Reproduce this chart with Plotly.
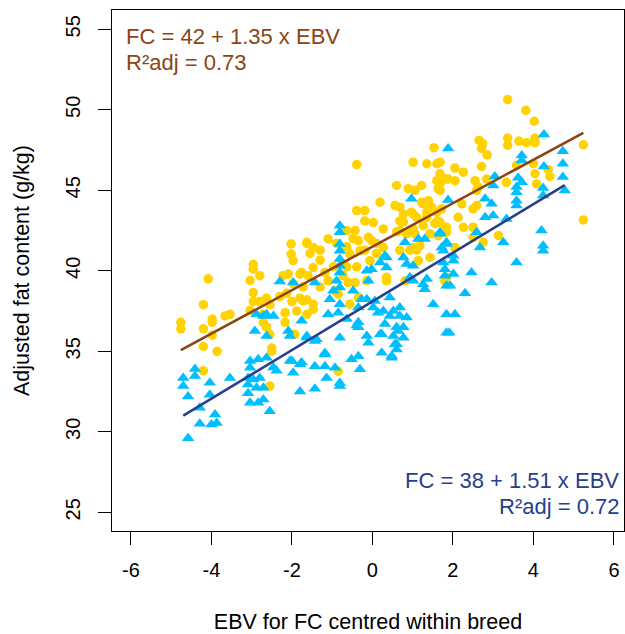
import plotly.graph_objects as go

# ---- data ----
yellow_pts = [
    (-4.76, 36.8), (-4.76, 36.4), (-4.20, 37.9), (-4.08, 39.5), (-4.20, 36.4), (-3.98, 37.0),
    (-3.98, 36.8), (-3.98, 36.0), (-4.20, 35.3), (-3.86, 35.0), (-3.66, 37.2), (-3.54, 37.3),
    (-4.20, 33.8), (-3.04, 39.4), (-2.96, 40.4), (-2.96, 40.1), (-2.80, 39.7), (-2.96, 38.65),
    (-2.96, 38.1), (-2.80, 38.1), (-2.63, 38.3), (-3.04, 37.55), (-2.71, 37.3), (-2.55, 37.9),
    (-2.71, 36.8), (-2.63, 36.5), (-2.55, 36.06), (-2.50, 35.2), (-2.50, 35.0), (-2.55, 32.84),
    (-2.22, 39.7), (-2.09, 39.8), (-2.30, 38.4), (-2.13, 38.6), (-2.17, 37.4), (-2.17, 36.8),
    (-2.02, 41.67), (-2.02, 41.04), (-1.97, 40.63), (-1.63, 41.7), (-1.88, 37.5), (-1.93, 36.06),
    (-2.00, 38.1), (-1.80, 38.3), (-1.63, 38.2), (-1.97, 39.2), (-1.72, 39.0), (-1.63, 37.3),
    (-1.80, 39.8),
    (-0.39, 46.6), (1.01, 46.75), (1.35, 46.65), (1.60, 46.65), (1.53, 47.65), (0.60, 45.3),
    (0.19, 44.26), (-0.39, 43.74), (-0.19, 43.74), (-0.19, 43.1), (0.02, 43.0), (0.27, 42.6),
    (-1.63, 41.77), (-1.47, 41.45), (-1.10, 41.98), (-0.64, 42.5), (-0.43, 42.5), (-0.48, 42.0),
    (-0.35, 41.87), (-0.10, 42.08), (-0.02, 41.87), (0.27, 41.45), (0.56, 44.05), (0.68, 43.95),
    (0.77, 43.53), (0.68, 43.1), (0.89, 45.1), (1.06, 45.0), (1.22, 45.3), (0.97, 43.64),
    (1.10, 43.32), (1.22, 44.26), (1.39, 44.36), (1.26, 42.8), (1.01, 42.6), (1.60, 45.6),
    (1.63, 45.1), (1.60, 43.64), (1.63, 43.1), (1.84, 45.7), (1.01, 43.53), (1.35, 43.32),
    (1.26, 44.16), (1.47, 43.95), (-0.31, 41.25), (-0.56, 41.04), (-0.06, 40.63), (0.68, 42.5),
    (0.85, 42.3), (1.06, 42.3), (1.01, 41.45), (1.18, 41.56), (1.43, 42.3), (1.63, 42.18),
    (-1.76, 39.9), (-1.60, 39.7), (-1.47, 40.2), (-1.72, 38.13), (-1.47, 37.93), (-1.47, 37.62),
    (-1.18, 39.9), (-1.10, 39.38), (-0.93, 38.76), (-0.85, 38.55), (-0.73, 39.7), (-0.60, 39.27),
    (-0.43, 39.27), (-0.14, 39.38), (-0.35, 38.34), (0.35, 39.6), (0.35, 39.38), (0.81, 39.38),
    (1.14, 40.63), (1.43, 40.83), (-0.85, 33.77),
    (1.35, 43.64), (1.55, 42.94), (1.84, 42.7), (0.93, 41.28), (1.10, 41.28), (0.68, 41.28),
    (0.77, 43.04), (0.60, 42.42), (0.10, 41.7), (0.10, 41.08), (-0.19, 41.28), (-0.64, 41.49),
    (-0.89, 41.7), (-1.30, 41.28), (-1.55, 41.08), (-1.30, 40.66), (-0.97, 40.25), (-1.30, 39.0),
    (-0.64, 40.25), (-0.39, 40.25), (-0.56, 37.93),
    (3.36, 50.64), (3.81, 49.97), (4.02, 49.29), (2.65, 48.1), (2.74, 47.9), (2.71, 47.6),
    (2.85, 47.2), (3.36, 48.25), (3.36, 47.8), (3.64, 48.06), (3.83, 47.96), (4.04, 48.25),
    (4.04, 47.96), (5.24, 47.83), (5.24, 43.16), (2.05, 46.38), (2.26, 46.13), (2.71, 46.48),
    (1.88, 45.7), (2.05, 45.6), (2.55, 45.6), (2.84, 45.7), (1.68, 45.4), (2.59, 45.0),
    (2.63, 45.2), (3.33, 45.5), (3.58, 46.55), (4.00, 46.65), (4.04, 46.03), (4.08, 45.4),
    (4.37, 46.28), (4.41, 45.86), (2.22, 44.16), (2.50, 43.85), (2.59, 44.05), (1.72, 43.85),
    (2.13, 43.32), (2.26, 42.7), (2.50, 42.7), (1.84, 42.4), (2.50, 42.08), (2.75, 41.77),
    (3.13, 42.2), (1.68, 43.0), (2.05, 41.45), (1.84, 39.6), (1.80, 39.38),
    (1.68, 46.75), (1.68, 46.03), (1.68, 45.0),
]

blue_pts = [
    (-4.70, 33.35), (-4.70, 32.84), (-4.58, 32.2), (-4.41, 33.9), (-4.41, 33.46), (-4.58, 29.6),
    (-4.29, 31.5), (-4.29, 30.5), (-4.04, 33.05), (-4.04, 32.3), (-3.91, 31.07), (-4.00, 30.45),
    (-3.87, 30.55), (-3.54, 33.35), (-2.88, 37.3), (-2.71, 37.2), (-2.63, 37.3), (-2.46, 37.2),
    (-2.92, 36.26), (-2.63, 35.95), (-3.04, 34.4), (-2.84, 34.5), (-2.63, 34.6), (-3.04, 33.98),
    (-2.46, 34.0), (-2.38, 33.8), (-3.09, 33.35), (-2.96, 33.25), (-2.80, 33.35), (-3.09, 32.94),
    (-2.88, 32.73), (-2.71, 32.73), (-3.09, 32.4), (-3.04, 31.8), (-2.84, 31.8), (-2.71, 32.0),
    (-2.55, 31.28), (-2.05, 34.4), (-1.80, 34.2), (-1.97, 33.67), (-1.80, 32.5), (-2.09, 36.26),
    (-2.05, 35.95), (-2.30, 39.34), (-1.97, 39.28), (-1.76, 36.9), (-1.63, 35.85),
    (0.97, 44.47), (-0.81, 42.8), (-0.81, 42.4), (-0.81, 41.67), (-0.81, 41.25),
    (-0.81, 40.73), (-0.81, 40.31), (-0.81, 39.9), (-0.89, 39.38), (-0.81, 38.96), (0.31, 40.94),
    (0.81, 41.77), (1.30, 41.98), (1.68, 42.3), (1.84, 41.77), (1.76, 41.25), (-1.43, 39.27),
    (-0.97, 38.76), (-1.06, 38.24), (-0.81, 37.93), (-1.10, 37.3), (-0.85, 37.4), (-0.48, 38.76),
    (-0.27, 38.24), (-0.14, 40.0), (-0.02, 40.1), (0.19, 40.52), (0.35, 40.83), (0.35, 40.2),
    (-0.10, 39.38), (-0.35, 37.72), (-0.64, 37.0), (-0.35, 36.8), (-0.14, 38.24), (0.06, 38.13),
    (0.02, 37.72), (0.14, 37.4), (0.43, 38.34), (0.68, 37.72), (0.27, 37.5), (0.43, 37.2),
    (0.52, 37.5), (0.77, 40.83), (1.14, 41.98), (0.85, 40.42), (1.01, 40.31), (1.01, 39.38),
    (1.26, 39.17), (1.30, 38.86), (0.68, 37.2), (0.85, 37.1), (0.31, 36.7), (0.60, 36.5),
    (0.77, 36.5), (0.19, 36.06), (0.52, 35.95), (0.77, 35.85), (0.56, 35.44), (0.60, 35.12),
    (-0.39, 36.6), (-0.35, 36.5), (-0.14, 35.95), (-0.10, 35.54), (0.23, 34.91), (0.48, 34.71),
    (-0.81, 35.85), (-1.43, 35.64), (-1.18, 34.81), (-1.43, 34.08), (-1.18, 34.08), (-0.93, 33.98),
    (-0.52, 34.5), (-0.35, 34.7), (-0.31, 33.88), (-1.14, 33.35), (-0.81, 33.04), (-0.81, 32.84),
    (-1.43, 32.68), (1.51, 37.93), (1.76, 40.52), (1.80, 40.1), (1.72, 41.45), (1.84, 37.3),
    (1.84, 36.16), (1.84, 39.07), (0.93, 39.6), (1.35, 39.49), (-1.63, 35.95), (-1.39, 35.75),
    (-1.18, 34.9), (-2.00, 34.4), (-1.76, 34.3), (0.23, 36.06), (0.60, 35.44), (0.48, 34.6),
    (0.64, 36.26), (1.91, 36.16),
    (1.88, 47.6), (4.26, 48.46), (4.73, 47.42), (3.71, 47.17), (3.71, 46.86), (4.73, 46.65),
    (4.26, 46.48), (3.04, 45.86), (3.00, 45.3), (3.62, 45.78), (3.71, 45.5), (3.58, 45.2),
    (3.58, 44.88), (4.73, 45.82), (4.24, 45.15), (4.24, 44.68), (4.78, 44.99), (3.58, 44.36),
    (3.58, 44.05), (1.88, 44.4), (2.80, 44.47), (2.96, 44.16), (2.80, 43.32), (3.00, 43.43),
    (3.33, 43.22), (1.68, 42.4), (2.59, 42.4), (4.20, 42.5), (3.25, 41.77), (4.24, 41.56),
    (4.24, 41.25), (1.84, 41.67), (2.01, 40.94), (2.01, 40.63), (2.67, 41.45), (3.58, 40.52),
    (2.46, 39.9), (2.01, 39.8), (2.96, 39.28), (1.80, 39.7), (1.93, 39.07), (2.30, 38.6),
    (2.05, 37.3),
]

yellow_fit = (41.5, 1.35)   # intercept, slope (brown line)
blue_fit = (38.1, 1.51)     # intercept, slope (blue line)

x_ticks = [-6, -4, -2, 0, 2, 4, 6]
y_ticks = [25, 30, 35, 40, 45, 50, 55]

yellow_label = ["FC = 42 + 1.35 x EBV", "R²adj = 0.73"]
blue_label = ["FC = 38 + 1.51 x EBV", "R²adj = 0.72"]

# ---- styling ----
GOLD = "#FFD200"
SKY = "#00BFFF"
BROWN = "#8B4513"
NAVY = "#27408B"
FONT = "Liberation Sans, Arial, sans-serif"

yx, yy = zip(*yellow_pts)
bx, by = zip(*blue_pts)


def fit_line(xs, fit):
    a, b = fit
    x0, x1 = min(xs), max(xs)
    return [x0, x1], [a + b * x0, a + b * x1]


fig = go.Figure()
fig.add_trace(go.Scatter(x=yx, y=yy, mode="markers",
                         marker=dict(symbol="circle", size=9.5, color=GOLD, line=dict(width=0))))
fig.add_trace(go.Scatter(x=bx, y=by, mode="markers",
                         marker=dict(symbol="triangle-up", size=11, color=SKY, line=dict(width=0))))
lx, ly = fit_line(yx, yellow_fit)
fig.add_trace(go.Scatter(x=lx, y=ly, mode="lines", line=dict(color=BROWN, width=2.6)))
lx, ly = fit_line(bx, blue_fit)
fig.add_trace(go.Scatter(x=lx, y=ly, mode="lines", line=dict(color=NAVY, width=2.6)))

W, H = 625, 634
L, R, T, B = 112, 1, 10, 103

axis_common = dict(showline=True, linecolor="black", linewidth=1, mirror=True,
                   ticks="outside", ticklen=13, tickwidth=1, tickcolor="black",
                   showgrid=False, zeroline=False,
                   tickfont=dict(family=FONT, size=20, color="black"))

fig.update_layout(
    width=W, height=H, autosize=False,
    margin=dict(l=L, r=R, t=T, b=B, pad=0),
    paper_bgcolor="white", plot_bgcolor="white",
    showlegend=False,
    font=dict(family=FONT, color="black"),
    xaxis=dict(range=[-6.47, 6.25], tickvals=x_ticks, ticktext=[str(v) for v in x_ticks],
               ticklabelstandoff=8,
               title=dict(text="EBV for FC centred within breed", standoff=33,
                          font=dict(family=FONT, size=21.5, color="black")),
               **axis_common),
    yaxis=dict(range=[23.84, 56.2], tickvals=y_ticks, ticktext=[str(v) for v in y_ticks],
               tickangle=-90, ticklabelstandoff=10,
               title=dict(text="Adjusted fat content (g/kg)", standoff=26,
                          font=dict(family=FONT, size=21.5, color="black")),
               **axis_common),
)

pw = W - L - R
ph = H - T - B


def px(xp):
    return (xp - L) / pw


def py(yp):
    return (H - B - yp) / ph


fig.add_annotation(x=px(124), y=py(36), xref="paper", yref="paper", text=yellow_label[0],
                   showarrow=False, xanchor="left", yanchor="middle",
                   font=dict(family=FONT, size=22, color=BROWN))
fig.add_annotation(x=px(124), y=py(62), xref="paper", yref="paper", text=yellow_label[1],
                   showarrow=False, xanchor="left", yanchor="middle",
                   font=dict(family=FONT, size=22, color=BROWN))
fig.add_annotation(x=px(621), y=py(480), xref="paper", yref="paper", text=blue_label[0],
                   showarrow=False, xanchor="right", yanchor="middle",
                   font=dict(family=FONT, size=22, color=NAVY))
fig.add_annotation(x=px(621), y=py(506), xref="paper", yref="paper", text=blue_label[1],
                   showarrow=False, xanchor="right", yanchor="middle",
                   font=dict(family=FONT, size=22, color=NAVY))

fig.write_html("out.html", config={"displayModeBar": False},
               post_script="document.body.style.margin='0';document.body.style.padding='0';")
